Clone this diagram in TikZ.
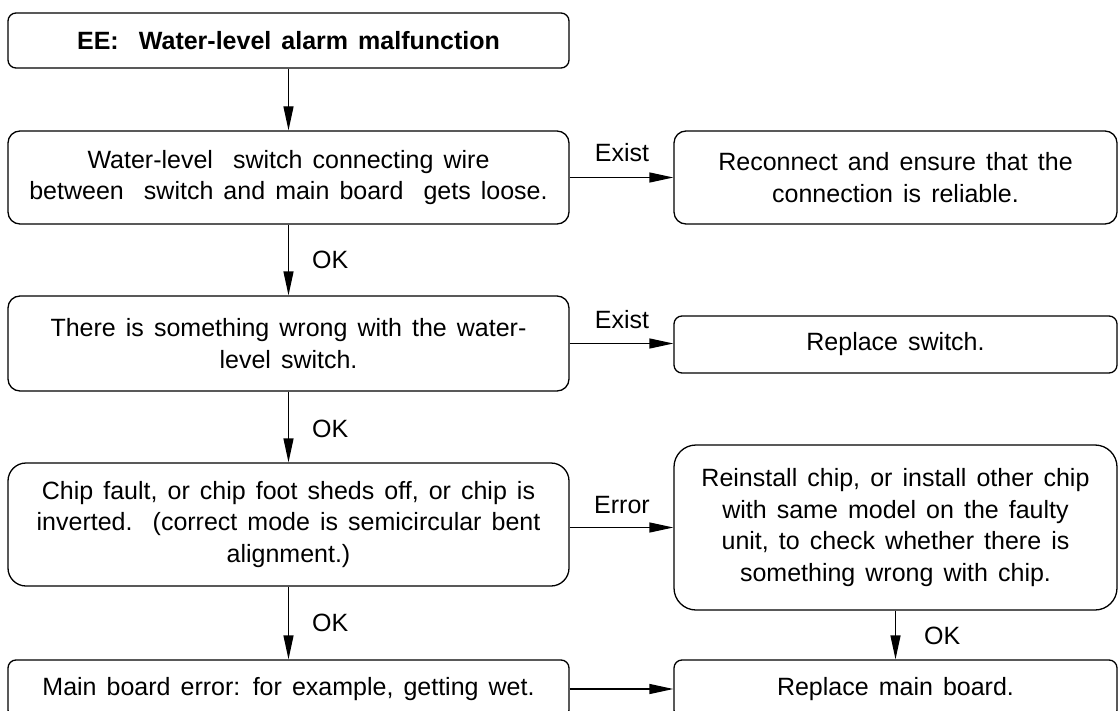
\documentclass[tikz,border=0pt]{standalone}
\usepackage{fontspec}
\setmainfont{Liberation Sans}[WordSpace=1.45]
\usetikzlibrary{arrows.meta}
\begin{document}
\begin{tikzpicture}[x=1pt,y=-1pt,
  box/.style={draw, line width=1.3pt, align=center, inner sep=0pt,
    font=\fontsize{25}{31.8}\selectfont},
  arr/.style={line width=1.3pt, -{Triangle[length=24pt,width=10pt]}},
  lbl/.style={font=\fontsize{25}{28}\selectfont, inner sep=0pt}]
\useasboundingbox (0,0) rectangle (1118,711);

% left column
\node[box, rounded corners=8pt, minimum width=561pt, minimum height=55pt] (b1) at (288.5,40.5)
  {\bfseries EE:\ \ Water-level alarm malfunction};
\node[box, rounded corners=12pt, minimum width=561pt, minimum height=93pt] (b2) at (288.5,177.5)
  {Water-level\ \ switch connecting wire\\between\ \ switch and main board\ \ gets loose.};
\node[box, rounded corners=12pt, minimum width=561pt, minimum height=95pt] (b3) at (288.5,343.5)
  {There is something wrong with the water-\\level switch.};
\node[box, rounded corners=18pt, minimum width=561pt, minimum height=123pt] (b4) at (288.5,524.5)
  {Chip fault, or chip foot sheds off, or chip is\\inverted.\ \ (correct mode is semicircular bent\\alignment.)};
\node[box, rounded corners=8pt, minimum width=561pt, minimum height=58pt] (b5) at (288.5,689)
  {Main board error: for example, getting wet.};

% right column
\node[box, rounded corners=12pt, minimum width=443pt, minimum height=93pt] (r1) at (895.5,177.5)
  {Reconnect and ensure that the\\connection is reliable.};
\node[box, rounded corners=8pt, minimum width=443pt, minimum height=57pt] (r2) at (895.5,344.5)
  {Replace switch.};
\node[box, rounded corners=22pt, minimum width=443pt, minimum height=165pt] (r3) at (895.5,527.5)
  {Reinstall chip, or install other chip\\with same model on the faulty\\unit, to check whether there is\\something wrong with chip.};
\node[box, rounded corners=8pt, minimum width=443pt, minimum height=58pt] (r4) at (895.5,689)
  {Replace main board.};

% connectors
\draw[arr] (b1) -- (b2);
\draw[arr] (b2) -- (b3);
\draw[arr] (b3) -- (b4);
\draw[arr] (b4) -- (b5);
\draw[arr] (b2.east) -- (b2.east -| r1.west);
\draw[arr] (b3.east) -- (b3.east -| r2.west);
\draw[arr] (b4.east |- r3.west) -- (r3.west);
\draw[arr] (b5.east) -- (b5.east -| r4.west);
\draw[arr] (r3) -- (r4);

% labels
\node[lbl, anchor=west] (ok1) at (312,260) {OK};
\node[lbl, anchor=west] (ok2) at (312,429) {OK};
\node[lbl, anchor=west] (ok3) at (312,623) {OK};
\node[lbl, anchor=west] (ok4) at (924,636) {OK};
\node[lbl] (ex1) at (622,153) {Exist};
\node[lbl] (ex2) at (622,320) {Exist};
\node[lbl] (er1) at (622,505) {Error};
\end{tikzpicture}
\end{document}
